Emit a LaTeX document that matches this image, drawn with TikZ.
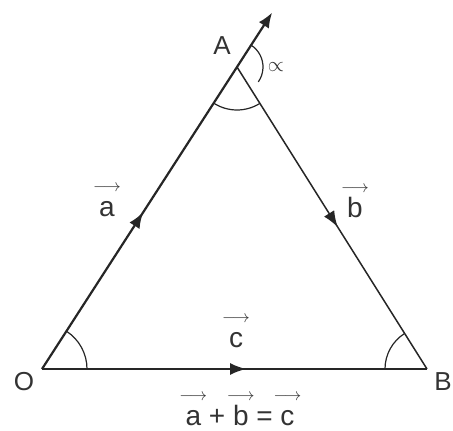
\documentclass[tikz,border=0pt]{standalone}
\usepackage{fontspec}
\setmainfont{Liberation Sans}
\usetikzlibrary{arrows.meta,decorations.markings,calc}
\newcommand{\vl}[1]{\leavevmode\setbox0\hbox{#1}\hbox to \wd0{\hss\raisebox{25pt}[0pt][0pt]{\fontsize{16}{16}\selectfont$\longrightarrow$}\hss}\kern-\wd0\box0\relax}
\definecolor{ink}{HTML}{262626}
\definecolor{tink}{HTML}{333333}
\begin{document}
\begin{tikzpicture}[x=1pt,y=1pt,
  caplab/.style={font=\fontsize{26}{26}\selectfont, text=tink, inner sep=0pt},
  lowlab/.style={font=\fontsize{28}{28}\selectfont, text=tink, inner sep=0pt, anchor=base},
  midarrow/.style={decoration={markings, mark=at position #1 with {\arrow{Latex[length=16pt,width=12pt]}}}, postaction=decorate},
  anglearc/.style={line width=1.2pt, draw=ink}]
\useasboundingbox (0,0) rectangle (453,431);
\coordinate (O) at (42,62);
\coordinate (B) at (427,62);
\coordinate (A) at (237,364);
\coordinate (T) at ($(O)!1.18!(A)$);
% sides
\draw[ink, line width=2.2pt, -{Latex[length=15pt,width=12pt]}, midarrow=0.44] (O) -- (T);
\draw[ink, line width=1.5pt, midarrow=0.53] (A) -- (B);
\draw[ink, line width=1.7pt, midarrow=0.53] (O) -- (B);
% angle arcs
\draw[anglearc] ($(O)+(0:45)$) arc[start angle=0, end angle=57.1, radius=45];
\draw[anglearc] ($(B)+(180:42)$) arc[start angle=180, end angle=122.4, radius=42];
\draw[anglearc] ($(A)+(237.1:43)$) arc[start angle=237.1, end angle=302.4, radius=43];
\draw[anglearc] ($(A)+(57.1:26)$) arc[start angle=57.1, end angle=-35, radius=26];
% labels
\node[caplab] (lA) at (222,385) {A};
\node[caplab] (lO) at (24,49) {O};
\node[caplab] (lB) at (443,49) {B};
\node[caplab, font=\fontsize{22}{22}\selectfont] (lalpha) at (276,364) {$\propto$};
\node[lowlab] (la) at (107,214) {\vl{a}};
\node[lowlab] (lb) at (355,213) {\vl{b}};
\node[lowlab] (lc) at (236,83) {\vl{c}};
\node[lowlab] (lsum) at (240,5) {\vl{a} + \vl{b} = \vl{c}};
\end{tikzpicture}
\end{document}
